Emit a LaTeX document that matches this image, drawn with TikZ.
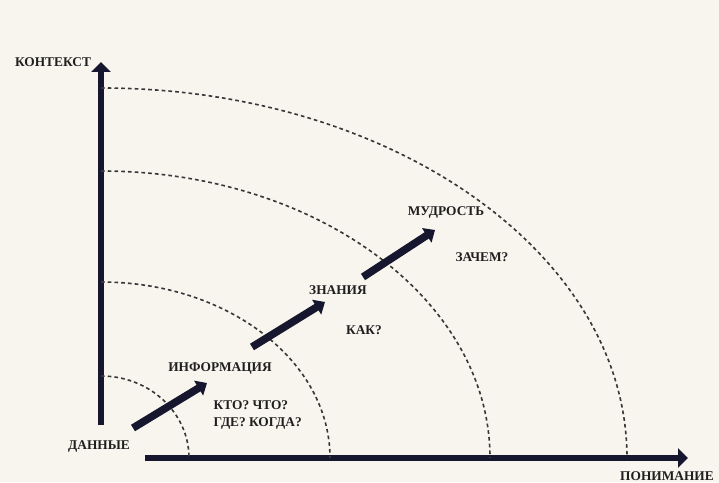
\documentclass[tikz,border=0pt]{standalone}
\usepackage{fontspec}
\setmainfont{Liberation Serif}
\usetikzlibrary{arrows.meta}

\definecolor{ink}{RGB}{22,22,46}
\definecolor{paper}{RGB}{248,245,239}
\definecolor{dashgray}{RGB}{55,55,55}

\begin{document}
\begin{tikzpicture}[x=0.025cm,y=0.025cm,
    axis/.style={draw=ink, line width=4.8pt, -{Triangle[length=7pt,width=13.5pt]}},
    stage/.style={draw=ink, line width=5.4pt, -{Triangle[length=7pt,width=12pt]}},
    level/.style={draw=dashgray, line width=1.15pt, dash pattern=on 2.6pt off 2.2pt},
    lbl/.style={font=\bfseries\fontsize{9.5}{11.5}\selectfont, text=black!88, inner sep=1pt}]

    % Background and frame size
    \fill[paper] (0,0) rectangle (719,482);
    \useasboundingbox (0,0) rectangle (719,482);

    % Axes
    \coordinate (ybot) at (101,57);
    \coordinate (ytop) at (101,420);
    \coordinate (xleft) at (145,24);
    \coordinate (xright) at (688,24);
    \draw[axis] (ybot) -- (ytop);
    \draw[axis] (xleft) -- (xright);

    % Levels (quarter ellipses round the corner)
    \draw[level] (101,106) arc[start angle=90, end angle=0, x radius=88, y radius=82];
    \draw[level] (101,200) arc[start angle=90, end angle=0, x radius=229, y radius=176];
    \draw[level] (101,311) arc[start angle=90, end angle=0, x radius=389, y radius=287];
    \draw[level] (101,394) arc[start angle=90, end angle=0, x radius=526, y radius=370];

    % Steps between stages
    \coordinate (s1a) at (133,54);
    \coordinate (s1b) at (207,99);
    \coordinate (s2a) at (252,135);
    \coordinate (s2b) at (325,180);
    \coordinate (s3a) at (363,205);
    \coordinate (s3b) at (435,252);
    \draw[stage] (s1a) -- (s1b);
    \draw[stage] (s2a) -- (s2b);
    \draw[stage] (s3a) -- (s3b);

    % Labels
    \node[lbl] (context) at (53,420) {КОНТЕКСТ};
    \node[lbl] (data) at (99,35) {ДАННЫЕ};
    \node[lbl] (info) at (220,113) {ИНФОРМАЦИЯ};
    \node[lbl, anchor=west, align=left] (who) at (212,67) {КТО? ЧТО?\\ГДЕ? КОГДА?};
    \node[lbl] (know) at (338,192) {ЗНАНИЯ};
    \node[lbl] (how) at (364,152) {КАК?};
    \node[lbl] (wisdom) at (446,269) {МУДРОСТЬ};
    \node[lbl] (why) at (482,225) {ЗАЧЕМ?};
    \node[lbl] (underst) at (667,6) {ПОНИМАНИЕ};
\end{tikzpicture}
\end{document}
